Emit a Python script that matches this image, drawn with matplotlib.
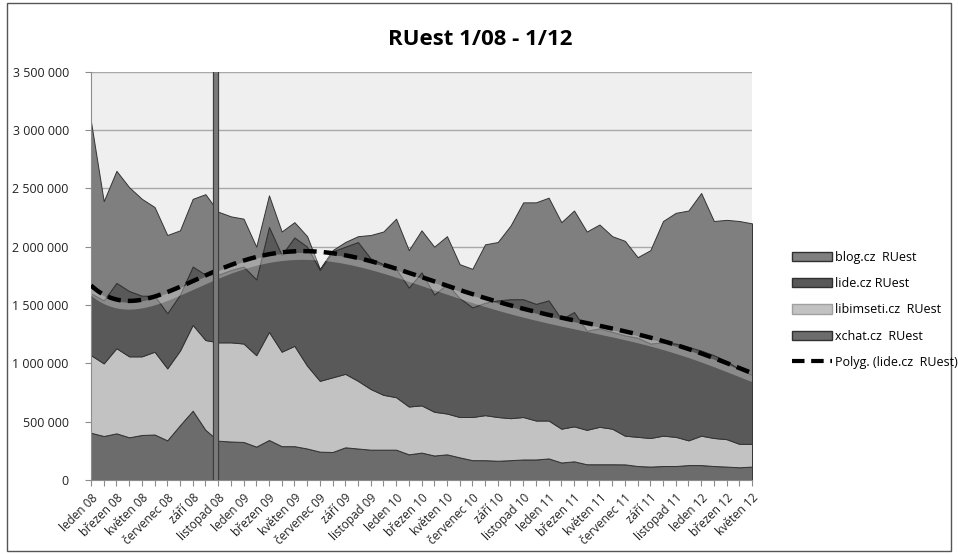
import numpy as np
import matplotlib
matplotlib.use("Agg")
import matplotlib.pyplot as plt
from matplotlib.ticker import FuncFormatter
from matplotlib.patches import Rectangle, Patch
from matplotlib.lines import Line2D

plt.rcParams['font.family'] = ['Open Sans', 'DejaVu Sans']

# monthly values (thousands), leden 08 .. kveten 12
xchat = [405, 377, 400, 366, 386, 390, 340, 470, 594, 430, 337, 330, 326, 286, 343, 290, 290, 270,
         243, 240, 280, 270, 260, 260, 260, 220, 235, 210, 220, 194, 170, 170, 165, 170, 176, 176,
         185, 150, 160, 135, 135, 135, 134, 120, 115, 120, 120, 128, 128, 120, 115, 109, 115]
libimseti = [665, 623, 730, 694, 674, 710, 617, 640, 736, 770, 843, 850, 844, 784, 927, 810, 860, 710,
             607, 640, 630, 580, 520, 470, 450, 410, 405, 375, 350, 346, 370, 386, 375, 360, 364, 334,
             325, 290, 300, 295, 321, 305, 246, 250, 245, 260, 250, 212, 252, 240, 235, 201, 195]
lide = [530, 540, 560, 560, 520, 480, 473, 480, 500, 560, 580, 620, 660, 650, 900, 830, 930, 1020,
        950, 1080, 1090, 1190, 1120, 1120, 1100, 1020, 1140, 1005, 1110, 1020, 940, 964, 1000, 1020,
        1010, 1000, 1030, 940, 980, 850, 844, 830, 860, 850, 810, 800, 800, 800, 730, 710, 670, 640, 590]
blog = [1470, 850, 960, 890, 830, 760, 670, 550, 580, 690, 540, 460, 410, 280, 270, 200, 130, 90,
        10, 10, 40, 50, 200, 280, 430, 320, 360, 410, 410, 290, 330, 500, 500, 630, 830, 870,
        880, 830, 870, 850, 890, 820, 810, 690, 800, 1040, 1120, 1170, 1350, 1150, 1210, 1270, 1300]

tick_labels = ["leden 08", "březen 08", "květen 08", "červenec 08", "září 08", "listopad 08",
               "leden 09", "březen 09", "květen 09", "červenec 09", "září 09", "listopad 09",
               "leden 10", "březen 10", "květen 10", "červenec 10", "září 10", "listopad 10",
               "leden 11", "březen 11", "květen 11", "červenec 11", "září 11", "listopad 11",
               "leden 12", "březen 12", "květen 12"]

series_names = ["xchat.cz  RUest", "libimseti.cz  RUest", "lide.cz RUest", "blog.cz  RUest"]
colors = ["#6c6c6c", "#c2c2c2", "#595959", "#7f7f7f"]
marker_month = 9.8   # vertical marker between rijen and listopad 08

x = np.arange(len(blog))
data = np.array([xchat, libimseti, lide, blog]) * 1000.0

fig = plt.figure(figsize=(9.58, 5.54), dpi=100)
ax = fig.add_axes([91 / 958, 74 / 554, 661 / 958, 408.3 / 554])
ax.set_facecolor("#efefef")

ax.stackplot(x, data, colors=colors, edgecolor="#333333", linewidth=0.7, zorder=2)

# polynomial trend of the lide.cz level (as Excel draws it on the stacked chart)
lide_top = data[:3].sum(axis=0)
poly = np.polynomial.Polynomial.fit(x, lide_top, 6)
xs = np.linspace(x[0], x[-1], 300)
ax.plot(xs, poly(xs) - 45000, color="white", lw=5, alpha=0.3, zorder=3, solid_capstyle="round")
ax.plot(xs, poly(xs), color="black", lw=3.2, ls=(0, (3, 1.6)), zorder=4)

ax.axvline(marker_month, color="#3c3c3c", lw=4.5, zorder=5)
ax.axvline(marker_month, color="#7a7a7a", lw=2.8, zorder=6)

ax.set_xlim(x[0], x[-1])
ax.set_ylim(0, 3500000)
ax.set_yticks(np.arange(0, 3500001, 500000))
ax.yaxis.set_major_formatter(FuncFormatter(lambda v, p: f"{int(v):,}".replace(",", " ")))
ax.yaxis.grid(True, color="#a8a8a8", lw=1)
ax.set_axisbelow(True)

ax.set_xticks(x)
ax.set_xticklabels([tick_labels[i // 2] if i % 2 == 0 else "" for i in x],
                   rotation=45, ha="right", rotation_mode="anchor")
ax.tick_params(axis="both", colors="#8c8c8c", labelcolor="#222222", length=4)
ax.tick_params(axis="y", labelsize=9, pad=12)
ax.tick_params(axis="x", labelsize=8.5, pad=4)

for side in ["top", "right"]:
    ax.spines[side].set_visible(False)
ax.spines["left"].set_color("#8c8c8c")
ax.spines["bottom"].set_color("#8c8c8c")

fig.text(0.501, 0.928, "RUest 1/08 - 1/12", ha="center", va="center", fontsize=16, fontweight="bold")

# legend in Excel order
handles = [Patch(facecolor=colors[3], edgecolor="#303030", label=series_names[3]),
           Patch(facecolor=colors[2], edgecolor="#303030", label=series_names[2]),
           Patch(facecolor=colors[1], edgecolor="#a0a0a0", label=series_names[1]),
           Patch(facecolor=colors[0], edgecolor="#303030", label=series_names[0]),
           Line2D([0], [0], color="black", lw=3, ls=(0, (3, 1.6)), label="Polyg. (lide.cz  RUest)")]
fig.legend(handles=handles, loc="upper left", bbox_to_anchor=(0.815, 0.567), frameon=False,
           fontsize=9, labelspacing=1.05, handlelength=3.2, handleheight=0.75, handletextpad=0.25)

fig.patches.append(Rectangle((7 / 958, 3 / 554), 944 / 958, 548 / 554, transform=fig.transFigure,
                             fill=False, edgecolor="#555555", lw=1))

fig.savefig("out.png", dpi=100)
